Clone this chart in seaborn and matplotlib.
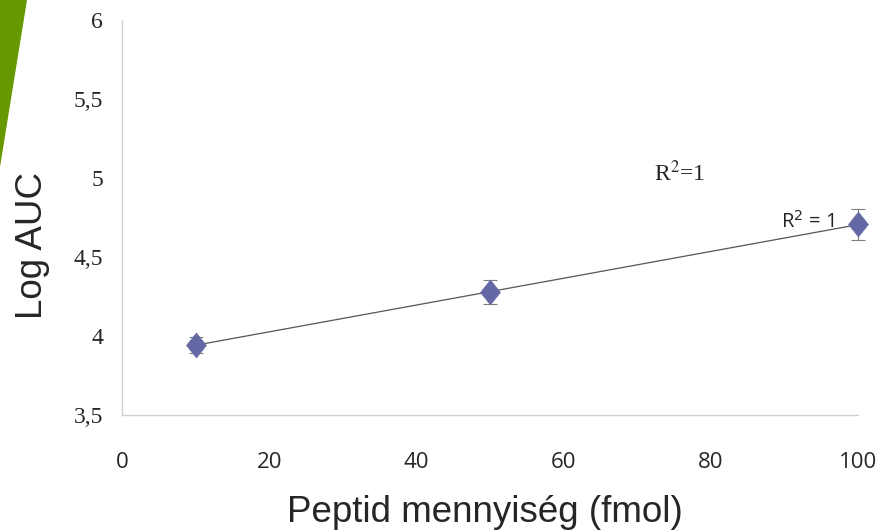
import numpy as np
import pandas as pd
import matplotlib
matplotlib.use('Agg')
import matplotlib.pyplot as plt
import seaborn as sns
from matplotlib.patches import Polygon
from matplotlib.path import Path

# data
peptid = [10, 50, 100]
log_auc = [3.943, 4.278, 4.706]
err = [0.05, 0.076, 0.098]
x_ticks = [0, 20, 40, 60, 80, 100]
y_ticks = [3.5, 4, 4.5, 5, 5.5, 6]
y_tick_labels = ['3,5', '4', '4,5', '5', '5,5', '6']

df = pd.DataFrame({'Peptid': peptid, 'LogAUC': log_auc})

sns.set_style('white')
fig = plt.figure(figsize=(8.82, 5.31), dpi=100)
ax = fig.add_axes([122 / 882, 1 - 415 / 531, (858 - 122) / 882, (415 - 20) / 531])

marker_color = '#6467a3'
diamond = Path([(0, 1), (0.8, 0), (0, -1), (-0.8, 0), (0, 1)],
               [Path.MOVETO, Path.LINETO, Path.LINETO, Path.LINETO, Path.CLOSEPOLY])

eb = ax.errorbar(peptid, log_auc, yerr=err, fmt='none', ecolor='#7f7f7f',
                 elinewidth=0.8, capsize=5, capthick=0.8, zorder=2)
for art in eb.lines[1] + eb.lines[2]:
    art.set_clip_on(False)
sns.regplot(data=df, x='Peptid', y='LogAUC', scatter=False, ci=None, ax=ax,
            line_kws={'color': '#555555', 'linewidth': 0.9, 'zorder': 3})
sns.scatterplot(data=df, x='Peptid', y='LogAUC', marker=diamond, s=320,
                color=marker_color, edgecolor='#6a6ca8', linewidth=0.5,
                ax=ax, zorder=4, clip_on=False)

ax.set_xlim(0, 100)
ax.set_ylim(3.5, 6)
ax.set_xticks(x_ticks)
ax.set_xticklabels([str(t) for t in x_ticks], family='Open Sans', fontsize=16)
ax.set_yticks(y_ticks)
ax.set_yticklabels(y_tick_labels, family='Liberation Serif', fontsize=17)
ax.tick_params(axis='x', length=0, pad=27)
ax.tick_params(axis='y', length=0, pad=13.5)

for s in ['top', 'right']:
    ax.spines[s].set_visible(False)
for s in ['left', 'bottom']:
    ax.spines[s].set_color('#d0d0d0')
    ax.spines[s].set_linewidth(1.0)

ax.set_xlabel('Peptid mennyiség (fmol)', family='Liberation Sans', fontsize=26.5)
ax.set_ylabel('Log AUC', family='Liberation Sans', fontsize=26.5)
ax.xaxis.set_label_coords(0.493, -0.203)
ax.yaxis.set_label_coords(-0.098, 0.43)

ax.text(75.8, 5.03, 'R$^2$=1', family='Liberation Serif', fontsize=17,
        ha='center', va='center', math_fontfamily='stix')
ax.text(93.2, 4.72, 'R$^2$ = 1', family='Open Sans', fontsize=14.5,
        ha='center', va='center', math_fontfamily='dejavusans')

# green decoration in the corner
fig.patches.append(Polygon([[0, 1], [27 / 882, 1], [0, 1 - 167 / 531]],
                           closed=True, transform=fig.transFigure,
                           facecolor='#669900', edgecolor='none'))

fig.savefig('out.png', dpi=100)
